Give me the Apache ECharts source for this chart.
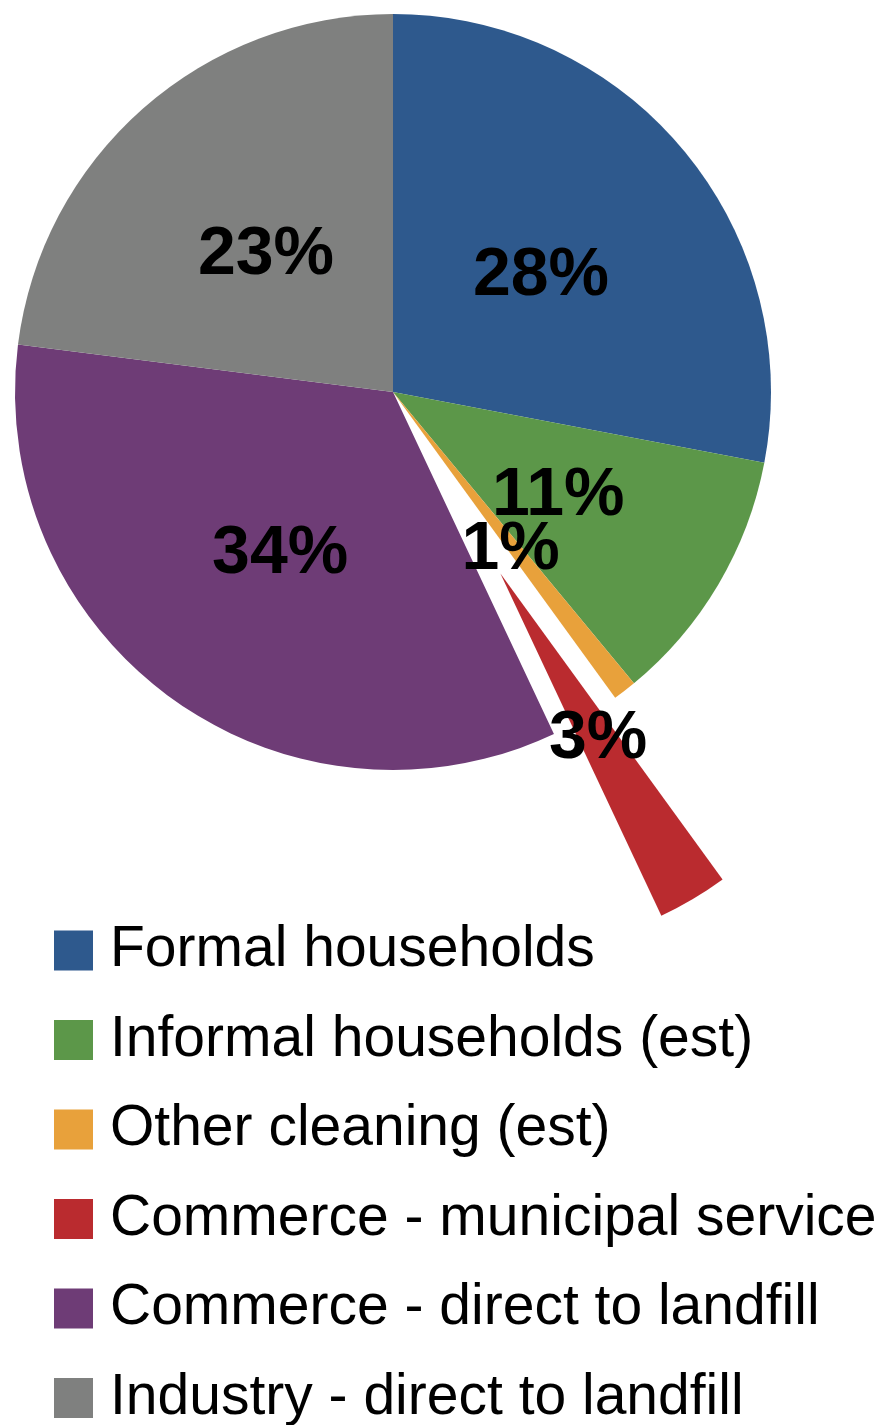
<!DOCTYPE html>
<html>
<head>
<meta charset="utf-8">
<script src="https://cdn.jsdelivr.net/npm/echarts@6/dist/echarts.min.js"></script>
<style>
  html, body { margin: 0; padding: 0; background: #ffffff; }
  #chart { width: 891px; height: 1425px; }
</style>
</head>
<body>
<div id="chart"></div>
<script>
// Waste sources, share of total (%)
const categories = [
  'Formal households',
  'Informal households (est)',
  'Other cleaning (est)',
  'Commerce - municipal service',
  'Commerce - direct to landfill',
  'Industry - direct to landfill'
];
const shares = [28, 11, 1, 3, 34, 23];
const colors = ['#2E598D', '#5C9749', '#E8A13B', '#BA2B2F', '#6E3C76', '#7F807F'];
// the municipal-service slice is pulled out of the pie
const pulledOut = 'Commerce - municipal service';

const chart = echarts.init(document.getElementById('chart'), null, { renderer: 'canvas' });

chart.setOption({
  animation: false,
  backgroundColor: '#ffffff',
  color: colors,
  legend: {
    orient: 'vertical',
    left: 54,
    top: 922,
    height: 540,
    padding: 0,
    itemWidth: 39,
    itemHeight: 40,
    itemGap: 32.5,
    icon: 'rect',
    selectedMode: false,
    data: categories,
    textStyle: {
      fontFamily: 'Liberation Sans, Arial, sans-serif',
      fontSize: 57,
      color: '#000000',
      padding: [0, 0, 0, 12]
    }
  },
  series: [{
    type: 'pie',
    center: [393, 392],
    radius: [0, 378],
    startAngle: 90,
    clockwise: true,
    selectedMode: 'single',
    selectedOffset: 211,
    avoidLabelOverlap: false,
    labelLayout: { hideOverlap: false },
    emphasis: { disabled: true },
    label: {
      show: true,
      position: 'inside',
      formatter: '{c}%',
      offset: [0, 7],
      color: '#000000',
      fontFamily: 'Liberation Sans, Arial, sans-serif',
      fontWeight: 'bold',
      fontSize: 68
    },
    labelLine: { show: false },
    itemStyle: { borderWidth: 0 },
    data: categories.map((name, i) => ({
      name: name,
      value: shares[i],
      selected: name === pulledOut
    }))
  }]
});
</script>
</body>
</html>
